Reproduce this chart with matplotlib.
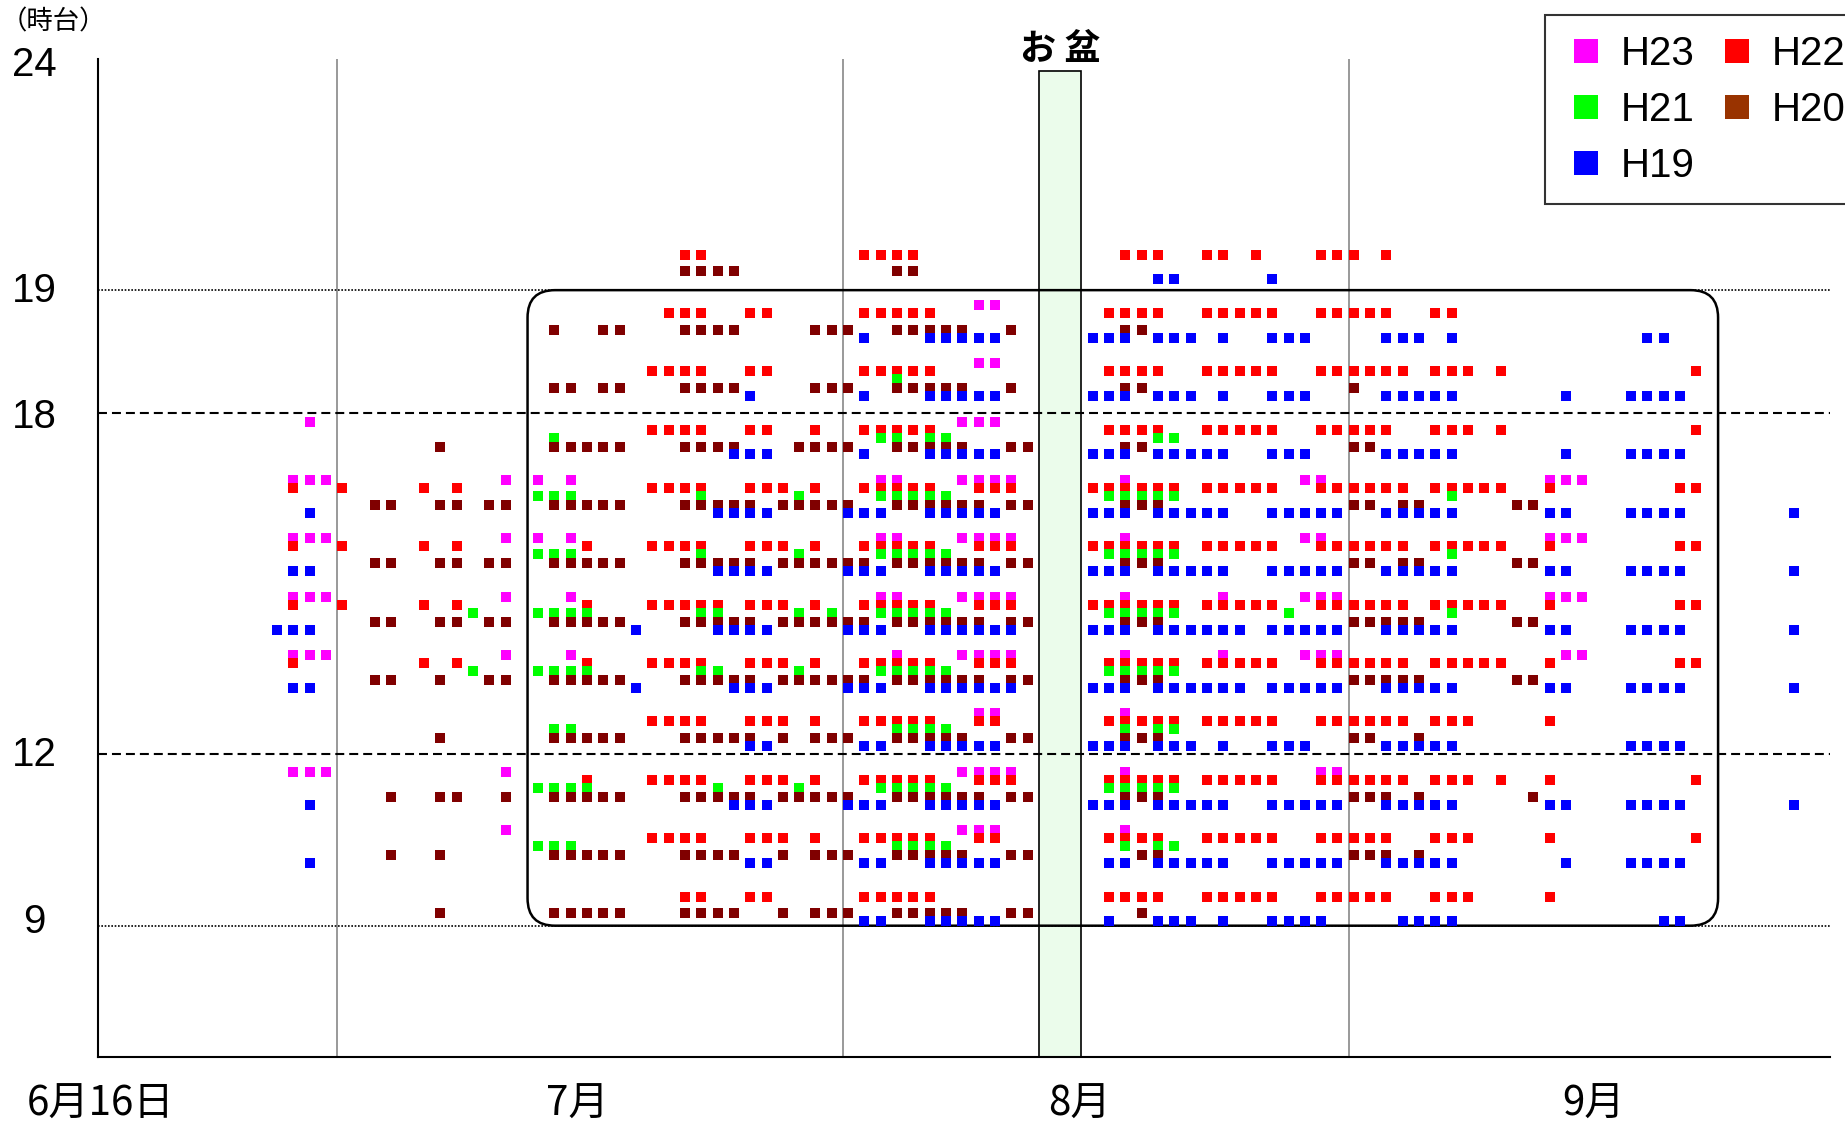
import matplotlib
matplotlib.use("Agg")
import matplotlib.pyplot as plt
from matplotlib.patches import FancyBboxPatch, Rectangle
from matplotlib.lines import Line2D

plt.rcParams['font.family'] = ['Liberation Sans', 'Noto Sans CJK JP', 'DejaVu Sans']

# x = days counted from 6/16 (15 = 7/1, 46 = 8/1, 77 = 9/1)
# keys = hour slot (9 = 9時台 ... 20)
h23 = {
    19: [54, 55],
    18: [54, 55],
    17: [13, 53, 54, 55],
    16: [12, 13, 14, 25, 27, 29, 48, 49, 53, 54, 55, 56, 63, 74, 75, 89, 90, 91],
    15: [12, 13, 14, 25, 27, 29, 48, 49, 53, 54, 55, 56, 63, 74, 75, 89, 90, 91],
    14: [12, 13, 14, 25, 29, 48, 49, 53, 54, 55, 56, 63, 69, 74, 75, 76, 89, 90, 91],
    13: [12, 13, 14, 25, 29, 49, 53, 54, 55, 56, 63, 69, 74, 75, 76, 90, 91],
    12: [54, 55, 63],
    11: [12, 13, 14, 25, 53, 54, 55, 56, 63, 75, 76],
    10: [25, 53, 54, 55, 63],
}
h22 = {
    20: [36, 37, 47, 48, 49, 50, 63, 64, 65, 68, 69, 71, 75, 76, 77, 79],
    19: [35, 36, 37, 40, 41, 47, 48, 49, 50, 51, 62, 63, 64, 65, 68, 69, 70, 71, 72,
         75, 76, 77, 78, 79, 82, 83],
    18: [34, 35, 36, 37, 40, 41, 47, 48, 49, 50, 51, 62, 63, 64, 65, 68, 69, 70, 71, 72,
         75, 76, 77, 78, 79, 80, 82, 83, 84, 86, 98],
    17: [34, 35, 36, 37, 40, 41, 44, 47, 48, 49, 50, 51, 62, 63, 64, 65, 68, 69, 70, 71, 72,
         75, 76, 77, 78, 79, 82, 83, 84, 86, 98],
    16: [12, 15, 20, 22, 34, 35, 36, 37, 40, 41, 42, 44, 47, 48, 49, 50, 51, 54, 55, 56,
         61, 62, 63, 64, 65, 66, 68, 69, 70, 71, 72, 75, 76, 77, 78, 79, 80, 82, 83, 84,
         85, 86, 89, 97, 98],
    15: [12, 15, 20, 22, 30, 34, 35, 36, 37, 40, 41, 42, 44, 47, 48, 49, 50, 51, 54, 55, 56,
         61, 62, 63, 64, 65, 66, 68, 69, 70, 71, 72, 75, 76, 77, 78, 79, 80, 82, 83, 84,
         85, 86, 89, 97, 98],
    14: [12, 15, 20, 22, 30, 34, 35, 36, 37, 38, 40, 41, 42, 44, 47, 48, 49, 50, 51, 54, 55,
         56, 61, 62, 63, 64, 65, 66, 68, 69, 70, 71, 72, 75, 76, 77, 78, 79, 80, 82, 83,
         84, 85, 86, 89, 97, 98],
    13: [12, 20, 22, 30, 34, 35, 36, 37, 40, 41, 42, 44, 47, 48, 49, 50, 51, 54, 55, 56,
         62, 63, 64, 65, 66, 68, 69, 70, 71, 72, 75, 76, 77, 78, 79, 80, 82, 83, 84, 85,
         86, 89, 97, 98],
    12: [34, 35, 36, 37, 40, 41, 42, 44, 47, 48, 49, 50, 51, 54, 55, 62, 63, 64, 65, 66,
         68, 69, 70, 71, 72, 75, 76, 77, 78, 79, 80, 82, 83, 84, 89],
    11: [30, 34, 35, 36, 37, 40, 41, 42, 44, 47, 48, 49, 50, 51, 54, 55, 56, 62, 63, 64, 65,
         66, 68, 69, 70, 71, 72, 75, 76, 77, 78, 79, 80, 82, 83, 84, 86, 89, 98],
    10: [34, 35, 36, 37, 40, 41, 42, 44, 47, 48, 49, 50, 51, 54, 55, 62, 63, 64, 65, 68,
         69, 70, 71, 72, 75, 76, 77, 78, 79, 82, 83, 84, 89, 98],
    9: [36, 37, 40, 41, 47, 48, 49, 50, 51, 62, 63, 64, 65, 68, 69, 70, 71, 72, 75, 76,
        77, 78, 79, 82, 83, 84, 89],
}
h21 = {
    18: [49],
    17: [28, 48, 49, 51, 52, 65, 66],
    16: [27, 28, 29, 37, 43, 48, 49, 50, 51, 52, 62, 63, 64, 65, 66, 83],
    15: [27, 28, 29, 37, 43, 48, 49, 50, 51, 52, 62, 63, 64, 65, 66, 83],
    14: [23, 27, 28, 29, 30, 37, 38, 43, 45, 48, 49, 50, 51, 52, 62, 63, 64, 65, 66, 73, 83],
    13: [23, 27, 28, 29, 30, 37, 38, 43, 48, 49, 50, 51, 52, 62, 63, 64, 65, 66],
    12: [28, 29, 49, 50, 51, 52, 63, 65, 66],
    11: [27, 28, 29, 30, 38, 43, 48, 49, 50, 51, 52, 62, 63, 64, 65, 66],
    10: [27, 28, 29, 49, 50, 51, 52, 63, 65, 66],
}
h20 = {
    20: [36, 37, 38, 39, 49, 50],
    19: [28, 31, 32, 36, 37, 38, 39, 44, 45, 46, 49, 50, 51, 52, 53, 56, 63, 64],
    18: [28, 29, 31, 32, 36, 37, 38, 39, 44, 45, 46, 49, 50, 51, 52, 53, 56, 63, 64, 77],
    17: [21, 28, 29, 30, 31, 32, 36, 37, 38, 39, 43, 44, 45, 46, 49, 50, 51, 52, 53, 56,
         57, 63, 64, 77, 78],
    16: [17, 18, 21, 22, 24, 25, 28, 29, 30, 31, 32, 36, 37, 38, 39, 40, 42, 43, 44, 45,
         46, 49, 50, 51, 52, 53, 54, 56, 57, 63, 64, 65, 77, 78, 80, 81, 87, 88],
    15: [17, 18, 21, 22, 24, 25, 28, 29, 30, 31, 32, 36, 37, 38, 39, 40, 42, 43, 44, 45,
         46, 47, 49, 50, 51, 52, 53, 54, 56, 57, 63, 64, 65, 77, 78, 80, 81, 87, 88],
    14: [17, 18, 21, 22, 24, 25, 28, 29, 30, 31, 32, 36, 37, 38, 39, 40, 42, 43, 44, 45,
         46, 47, 49, 50, 51, 52, 53, 54, 56, 57, 63, 64, 65, 77, 78, 79, 80, 81, 87, 88],
    13: [17, 18, 21, 24, 25, 28, 29, 30, 31, 32, 36, 37, 38, 39, 40, 42, 43, 44, 45, 46,
         47, 49, 50, 51, 52, 53, 54, 56, 57, 63, 64, 65, 77, 78, 79, 80, 81, 87, 88],
    12: [21, 28, 29, 30, 31, 32, 36, 37, 38, 39, 40, 42, 44, 45, 46, 49, 50, 51, 52, 53,
         56, 57, 63, 64, 65, 77, 78, 81],
    11: [18, 21, 22, 25, 28, 29, 30, 31, 32, 36, 37, 38, 39, 40, 42, 43, 44, 45, 46, 49,
         50, 51, 52, 53, 54, 56, 57, 63, 64, 65, 77, 78, 79, 81, 88],
    10: [18, 21, 28, 29, 30, 31, 32, 36, 37, 38, 39, 42, 44, 45, 46, 49, 50, 51, 52, 53,
         56, 57, 64, 65, 77, 78, 79, 81],
    9: [21, 28, 29, 30, 31, 32, 36, 37, 38, 39, 42, 44, 45, 46, 49, 50, 51, 52, 53, 56,
        57, 64],
}
h19 = {
    20: [65, 66, 72],
    19: [47, 51, 52, 53, 54, 55, 61, 62, 63, 65, 66, 67, 69, 72, 73, 74, 79, 80, 81, 83,
         95, 96],
    18: [40, 47, 51, 52, 53, 54, 55, 61, 62, 63, 65, 66, 67, 69, 72, 73, 74, 79, 80, 81,
         82, 83, 90, 94, 95, 96, 97],
    17: [39, 40, 41, 47, 51, 52, 53, 54, 55, 61, 62, 63, 65, 66, 67, 68, 69, 72, 73, 74,
         79, 80, 81, 82, 83, 90, 94, 95, 96, 97],
    16: [13, 38, 39, 40, 41, 46, 47, 48, 51, 52, 53, 54, 55, 61, 62, 63, 65, 66, 67, 68,
         69, 72, 73, 74, 75, 76, 79, 80, 81, 82, 83, 89, 90, 94, 95, 96, 97, 104],
    15: [12, 13, 38, 39, 40, 41, 46, 47, 48, 51, 52, 53, 54, 55, 61, 62, 63, 65, 66, 67,
         68, 69, 72, 73, 74, 75, 76, 79, 80, 81, 82, 83, 89, 90, 94, 95, 96, 97, 104],
    14: [11, 12, 13, 33, 38, 39, 40, 41, 46, 47, 48, 51, 52, 53, 54, 55, 56, 61, 62, 63,
         65, 66, 67, 68, 69, 70, 72, 73, 74, 75, 76, 79, 80, 81, 82, 83, 89, 90, 94, 95,
         96, 97, 104],
    13: [12, 13, 33, 39, 40, 41, 46, 47, 48, 51, 52, 53, 54, 55, 56, 61, 62, 63, 65, 66,
         67, 68, 69, 70, 72, 73, 74, 75, 76, 79, 80, 81, 82, 83, 89, 90, 94, 95, 96, 97, 104],
    12: [40, 41, 47, 48, 51, 52, 53, 54, 55, 61, 62, 63, 65, 66, 67, 69, 72, 73, 74, 79,
         80, 81, 82, 83, 94, 95, 96, 97],
    11: [13, 39, 40, 41, 46, 47, 48, 51, 52, 53, 54, 55, 61, 62, 63, 65, 66, 67, 68, 69,
         72, 73, 74, 75, 76, 79, 80, 81, 82, 83, 89, 90, 94, 95, 96, 97, 104],
    10: [13, 40, 41, 47, 48, 51, 52, 53, 54, 55, 62, 63, 65, 66, 67, 68, 69, 72, 73, 74,
         75, 76, 79, 80, 81, 82, 83, 90, 94, 95, 96, 97],
    9: [47, 48, 51, 52, 53, 54, 55, 62, 65, 66, 67, 69, 72, 73, 74, 75, 80, 81, 82, 83,
        96, 97],
}

years = ["H23", "H22", "H21", "H20", "H19"]
series = [h23, h22, h21, h20, h19]
colors = ["#ff00ff", "#ff0000", "#00ff00", "#800000", "#0000ff"]
legend_colors = ["#ff00ff", "#ff0000", "#00ff00", "#993300", "#0000ff"]
# small vertical shift of each year inside an hour slot
shift = [0.137, 0.0, -0.137, -0.29, -0.425]

# y labels (hour) and where they sit on the axis
ylab = ["9", "12", "18", "19", "24"]
ylab_pos = [-0.44, 2.42, 8.22, 10.38, 14.25]
line_pos = {"9": -0.5, "12": 2.447, "18": 8.285, "19": 10.40}

month_lab = ["6月16日", "7月", "8月", "9月"]
month_lab_pos = [0.2, 29.4, 60.2, 91.7]
month_lines = [14.7, 45.7, 76.7]
obon = (57.7, 60.3)

fig = plt.figure(figsize=(18.45, 11.32), dpi=100)
ax = fig.add_axes([0.05295, 0.06625, 0.9390, 0.8816])
ax.set_xlim(0, 106.2)
ax.set_ylim(-2.75, 14.35)

for s in ["top", "right"]:
    ax.spines[s].set_visible(False)
for s in ["left", "bottom"]:
    ax.spines[s].set_linewidth(1.5)
ax.set_xticks([])
ax.set_yticks([])

# month grid lines
for x in month_lines:
    ax.axvline(x, color="#999999", lw=1.4, zorder=1)

# お盆 band
ax.add_patch(Rectangle((obon[0], -2.75), obon[1] - obon[0], 14.15 + 2.75,
                       facecolor="#ebfceb", edgecolor="black", lw=1.2, zorder=1.5))
ax.text((obon[0] + obon[1]) / 2, 14.52, "お 盆", ha="center", va="center",
        fontsize=26, fontweight="bold", family=["Noto Sans CJK JP"], clip_on=False)

# hour lines
ax.axhline(line_pos["9"], color="black", lw=1.2, ls=(0, (1, 1)), zorder=2)
ax.axhline(line_pos["19"], color="black", lw=1.2, ls=(0, (1, 1)), zorder=2)
ax.axhline(line_pos["12"], color="black", lw=1.5, dashes=(4.3, 2.4), zorder=2)
ax.axhline(line_pos["18"], color="black", lw=1.5, dashes=(4.3, 2.4), zorder=2)

# rounded frame around 9-19時
ax.add_patch(FancyBboxPatch((26.35, -0.5), 99.33 - 26.35, 10.39 + 0.5,
                            boxstyle="round,pad=0,rounding_size=1.69",
                            mutation_aspect=0.278, fill=False, ec="black",
                            lw=1.8, zorder=2.5))

# points
for name, data, c, dy in zip(years, series, colors, shift):
    for hour, days in data.items():
        ax.plot(days, [hour - 9 + dy] * len(days), ls="none", marker="s",
                ms=6.5, mew=0, color=c, zorder=3)

# axis labels
ytr = ax.get_yaxis_transform()
for lab, y in zip(ylab, ylab_pos):
    ax.text(-0.0365, y, lab, transform=ytr, ha="center", va="center", fontsize=29)
xtr = ax.get_xaxis_transform()
for lab, x in zip(month_lab, month_lab_pos):
    ax.text(x, -0.047, lab, transform=xtr, ha="center", va="center", fontsize=29,
            family=["Noto Sans CJK JP"])
fig.text(0.0292, 0.981, "（時台）", ha="center", va="center", fontsize=19,
         family=["Noto Sans CJK JP"])

# legend
order = [0, 2, 4, 1, 3]
handles = [Line2D([], [], ls="none", marker="s", ms=17, mew=0, color=legend_colors[i])
           for i in order]
labels = [years[i] for i in order]
leg = fig.legend(handles, labels, loc="upper left", bbox_to_anchor=(0.8374, 0.9865),
                 ncol=2, fontsize=29, frameon=True, fancybox=False, borderaxespad=0,
                 handlelength=1.09, handletextpad=0.32, columnspacing=0.5,
                 labelspacing=0.45, borderpad=0.48)
leg.get_frame().set_edgecolor("black")
leg.get_frame().set_linewidth(1.5)

fig.savefig("out.png", dpi=100)
